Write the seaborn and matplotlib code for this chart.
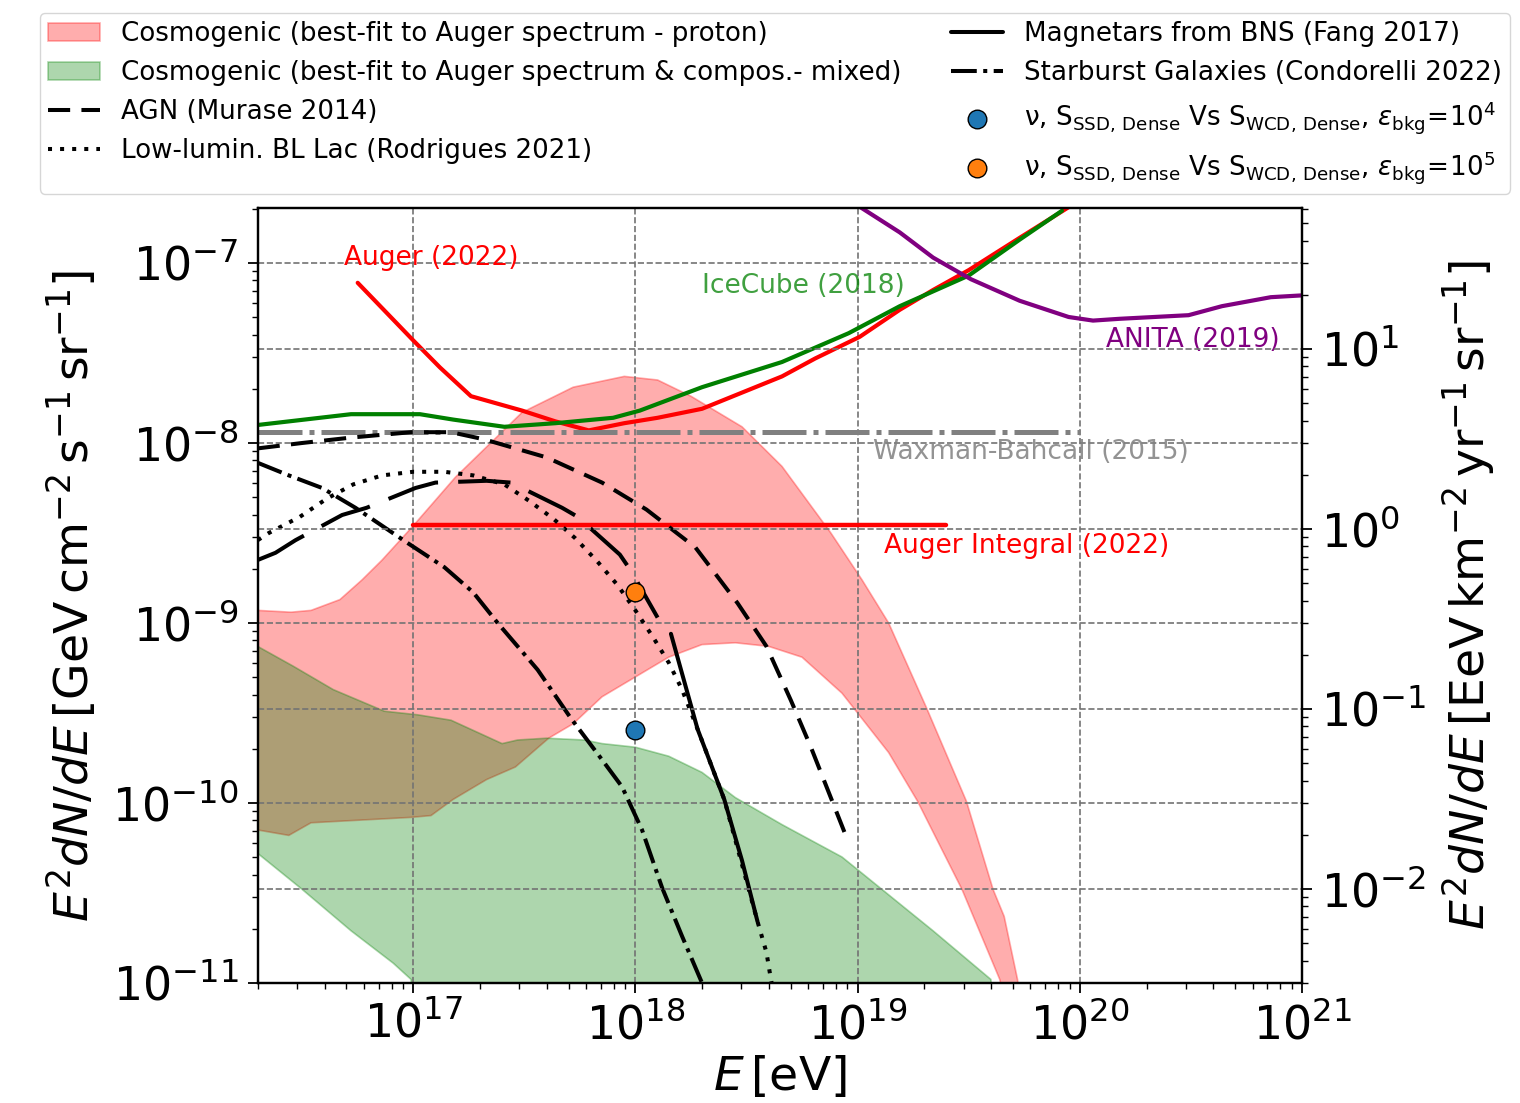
import numpy as np
import matplotlib
matplotlib.use("Agg")
import matplotlib.pyplot as plt
import seaborn as sns

# ---------------- data (log10 E[eV], log10 E^2 dN/dE [GeV cm^-2 s^-1 sr^-1]) ----------------
pink_up_logE = [16.30, 16.45, 16.54, 16.67, 16.77, 16.86, 17.00, 17.19, 17.34, 17.49, 17.72, 17.95, 18.10,
                18.25, 18.48, 18.66, 18.88, 19.02, 19.14, 19.31, 19.49, 19.61, 19.66, 19.72, 19.75]
pink_up_logF = [-8.93, -8.94, -8.93, -8.87, -8.76, -8.65, -8.46, -8.19, -8.01, -7.83, -7.69, -7.63, -7.65,
                -7.74, -7.91, -8.13, -8.50, -8.76, -9.00, -9.47, -9.99, -10.48, -10.63, -10.98, -11.3]
pink_lo_logE = [16.30, 16.44, 16.54, 16.99, 17.08, 17.18, 17.33, 17.46, 17.61, 17.72, 17.85, 18.00, 18.15,
                18.30, 18.45, 18.60, 18.75, 18.93, 19.00, 19.14, 19.27, 19.47, 19.64, 19.70]
pink_lo_logF = [-10.15, -10.18, -10.11, -10.08, -10.07, -9.98, -9.87, -9.80, -9.64, -9.56, -9.41, -9.30, -9.19,
                -9.12, -9.11, -9.13, -9.19, -9.39, -9.50, -9.72, -9.99, -10.48, -10.98, -11.3]

green_up_logE = [16.30, 16.46, 16.64, 16.87, 17.02, 17.17, 17.40, 17.47, 17.60, 17.77, 17.85, 18.00, 18.15,
                 18.30, 18.45, 18.66, 18.93, 19.11, 19.34, 19.60, 19.65]
green_up_logF = [-9.13, -9.24, -9.37, -9.49, -9.51, -9.54, -9.67, -9.65, -9.64, -9.65, -9.67, -9.69, -9.74,
                 -9.83, -9.97, -10.12, -10.30, -10.48, -10.71, -10.98, -11.5]
green_lo_logE = [16.30, 16.50, 16.72, 16.91, 16.99, 17.03, 19.65]
green_lo_logF = [-10.28, -10.48, -10.71, -10.89, -10.98, -11.5, -11.5]

auger_logE = [16.75, 17.00, 17.12, 17.26, 17.49, 17.64, 17.79, 17.95, 18.10, 18.30, 18.66, 18.81, 19.01,
              19.19, 19.34, 19.50, 19.73, 19.95]
auger_logF = [-7.11, -7.43, -7.58, -7.74, -7.82, -7.88, -7.93, -7.89, -7.86, -7.81, -7.63, -7.53, -7.41,
              -7.26, -7.15, -7.04, -6.86, -6.69]

icecube_logE = [16.30, 16.72, 17.03, 17.18, 17.41, 17.64, 17.90, 18.02, 18.30, 18.66, 18.96, 19.19, 19.50,
                19.73, 19.92]
icecube_logF = [-7.90, -7.84, -7.84, -7.87, -7.91, -7.89, -7.86, -7.82, -7.69, -7.55, -7.39, -7.24, -7.07,
                -6.87, -6.71]

anita_logE = [19.00, 19.19, 19.34, 19.51, 19.73, 19.95, 20.06, 20.18, 20.49, 20.64, 20.86, 21.00]
anita_logF = [-6.68, -6.83, -6.97, -7.09, -7.21, -7.30, -7.32, -7.31, -7.29, -7.24, -7.19, -7.18]

wb_logE = [16.30, 20.00]
wb_logF = [-7.94, -7.94]

auger_int_logE = [17.00, 19.40]
auger_int_logF = [-8.456, -8.456]

agn_logE = [16.30, 16.50, 16.72, 16.99, 17.17, 17.32, 17.60, 17.85, 18.05, 18.27, 18.46, 18.59, 18.70,
            18.79, 18.95]
agn_logF = [-8.03, -8.00, -7.97, -7.94, -7.94, -7.98, -8.08, -8.22, -8.37, -8.58, -8.89, -9.13, -9.43,
            -9.69, -10.19]

bllac_logE = [16.30, 16.35, 16.49, 16.61, 16.73, 16.86, 17.00, 17.14, 17.27, 17.41, 17.52, 17.63, 17.73,
              17.83, 17.92, 18.00, 18.08, 18.15, 18.21, 18.28, 18.40, 18.55, 18.59, 18.61, 18.63]
bllac_logF = [-8.54, -8.50, -8.41, -8.31, -8.23, -8.18, -8.16, -8.16, -8.18, -8.23, -8.32, -8.42, -8.53,
              -8.66, -8.79, -8.93, -9.08, -9.22, -9.37, -9.59, -9.98, -10.66, -10.83, -10.98, -11.1]

mag_logE = [16.30, 16.38, 16.47, 16.68, 16.79, 17.01, 17.10, 17.33, 17.44, 17.67, 17.74, 17.93, 17.98,
            18.10, 18.16, 18.28, 18.40, 18.48, 18.55]
mag_logF = [-8.65, -8.61, -8.54, -8.40, -8.36, -8.25, -8.22, -8.21, -8.22, -8.36, -8.41, -8.62, -8.71,
            -8.97, -9.06, -9.59, -9.98, -10.32, -10.66]
mag_split = 14

sb_logE = [16.30, 16.44, 16.59, 16.74, 16.98, 17.14, 17.27, 17.38, 17.56, 17.71, 17.85, 17.94, 18.03,
           18.12, 18.21, 18.30, 18.32]
sb_logF = [-8.11, -8.18, -8.25, -8.36, -8.56, -8.69, -8.83, -9.00, -9.26, -9.53, -9.76, -9.91, -10.15,
           -10.47, -10.74, -11.0, -11.15]

pt_E = [1e18, 1e18]
pt_F = [2.55e-10, 1.49e-9]
pt_colors = ['#1f77b4', '#ff7f0e']

unit_factor = 3e8  # GeV cm^-2 s^-1 -> EeV km^-2 yr^-1

labels = [
    'Cosmogenic (best-fit to Auger spectrum - proton)',
    'Cosmogenic (best-fit to Auger spectrum & compos.- mixed)',
    'AGN (Murase 2014)',
    'Low-lumin. BL Lac (Rodrigues 2021)',
    'Magnetars from BNS (Fang 2017)',
    'Starburst Galaxies (Condorelli 2022)',
    r'$\mathrm{\nu}$, $\mathrm{S}_{\mathrm{SSD,\,Dense}}$ Vs $\mathrm{S}_{\mathrm{WCD,\,Dense}}$, $\varepsilon_{\mathrm{bkg}}\!=\!10^4$',
    r'$\mathrm{\nu}$, $\mathrm{S}_{\mathrm{SSD,\,Dense}}$ Vs $\mathrm{S}_{\mathrm{WCD,\,Dense}}$, $\varepsilon_{\mathrm{bkg}}\!=\!10^5$',
]

# ---------------- style ----------------
sns.set_theme(style="ticks")
plt.rcParams['font.family'] = ['DejaVu Sans']
plt.rcParams['mathtext.fontset'] = 'dejavusans'
plt.rcParams['axes.axisbelow'] = 'line'
for k in ['text.color', 'axes.labelcolor', 'xtick.color', 'ytick.color', 'axes.edgecolor']:
    plt.rcParams[k] = 'black'

fig = plt.figure(figsize=(15.2, 11.03), dpi=100)
ax = fig.add_axes([0.1697, 0.1088, 0.6868, 0.7026])
ax.set_xscale('log')
ax.set_yscale('log')


def p(v):
    return 10 ** np.asarray(v, dtype=float)


def sline(xl, yl, **kw):
    sns.lineplot(x=p(xl), y=p(yl), ax=ax, estimator=None, sort=False, legend=False, **kw)
    return ax.lines[-1]


# bands
pink = ax.fill(np.concatenate([p(pink_up_logE), p(pink_lo_logE)[::-1]]),
               np.concatenate([p(pink_up_logF), p(pink_lo_logF)[::-1]]),
               color='red', alpha=0.32, lw=1.2)[0]
green = ax.fill(np.concatenate([p(green_up_logE), p(green_lo_logE)[::-1]]),
                np.concatenate([p(green_up_logF), p(green_lo_logF)[::-1]]),
                color='green', alpha=0.32, lw=1.2)[0]

# limits / experiments
sline(auger_logE, auger_logF, color='red', linewidth=3.0)
sline(icecube_logE, icecube_logF, color='green', linewidth=3.0)
sline(anita_logE, anita_logF, color='purple', linewidth=3.0)
sline(wb_logE, wb_logF, color='gray', linewidth=3.6, linestyle=(0, (8.8, 1.4, 1, 1.4)))
sline(auger_int_logE, auger_int_logF, color='red', linewidth=3.2)

# models
agn = sline(agn_logE, agn_logF, color='black', linewidth=2.9, linestyle=(0, (5.5, 2.8)))
bllac = sline(bllac_logE, bllac_logF, color='black', linewidth=2.9, linestyle=(0, (1, 2)))
sline(mag_logE[:mag_split], mag_logF[:mag_split], color='black', linewidth=2.9, linestyle=(0, (13, 5)))
mag = sline(mag_logE[mag_split:], mag_logF[mag_split:], color='black', linewidth=2.9, linestyle='-')
sb = sline(sb_logE, sb_logF, color='black', linewidth=2.9, linestyle='-.')

# sensitivity points
pts = []
for e, f, c in zip(pt_E, pt_F, pt_colors):
    sns.scatterplot(x=[e], y=[f], ax=ax, s=180, color=c, edgecolor='black', linewidth=1.0, zorder=6,
                    legend=False)
    pts.append(ax.collections[-1])

# annotations
tfs = 19
ax.text(p(16.69), p(-6.97), 'Auger (2022)', color='red', fontsize=tfs, va='center')
ax.text(p(18.30), p(-7.13), 'IceCube (2018)', color='green', alpha=0.75, fontsize=tfs, va='center')
ax.text(p(20.12), p(-7.43), 'ANITA (2019)', color='purple', fontsize=tfs, va='center')
ax.text(p(19.07), p(-8.05), 'Waxman-Bahcall (2015)', color='gray', alpha=0.85, fontsize=tfs, va='center')
ax.text(p(19.12), p(-8.57), 'Auger Integral (2022)', color='red', fontsize=tfs, va='center')

# axes
ax.set_xlim(2e16, 1e21)
ax.set_ylim(1e-11, 2.02e-7)
ax.grid(True, which='major', ls='--', color='0.45', lw=1.2)
ax.set_xlabel(r'$E\,[\mathrm{eV}]$', fontsize=34, labelpad=4)
ax.set_ylabel(r'$E^2dN/dE\,[\mathrm{GeV\,cm^{-2}\,s^{-1}\,sr^{-1}}]$', fontsize=34, labelpad=10)
ax.tick_params(axis='both', which='major', labelsize=33, length=7, width=1.3, direction='out', pad=7)
ax.tick_params(axis='both', which='minor', length=4, width=1.0, direction='out')
for s in ax.spines.values():
    s.set_linewidth(1.6)

ax2 = ax.twinx()
ax2.set_yscale('log')
ax2.set_ylim(1e-11 * unit_factor, 2.02e-7 * unit_factor)
ax2.grid(True, which='major', axis='y', ls='--', color='0.45', lw=1.2)
ax2.set_ylabel(r'$E^2dN/dE\,[\mathrm{EeV\,km^{-2}\,yr^{-1}\,sr^{-1}}]$', fontsize=34, labelpad=10)
ax2.tick_params(axis='y', which='major', labelsize=33, length=7, width=1.3, pad=7)
ax2.tick_params(axis='y', which='minor', length=4, width=1.0)
for s in ax2.spines.values():
    s.set_linewidth(1.6)

handles = [pink, green, agn, bllac, mag, sb, pts[0], pts[1]]
fig.legend(handles, labels, ncol=2, loc='upper left', bbox_to_anchor=(40 / 1520, 0.988),
           fontsize=18.8, labelspacing=0.5, columnspacing=1.9, handlelength=2.0, handletextpad=0.8,
           frameon=True, fancybox=True, framealpha=0.8, edgecolor='0.8', scatterpoints=1,
           borderpad=0.3, borderaxespad=0.0)

fig.savefig('out.png', dpi=100)
